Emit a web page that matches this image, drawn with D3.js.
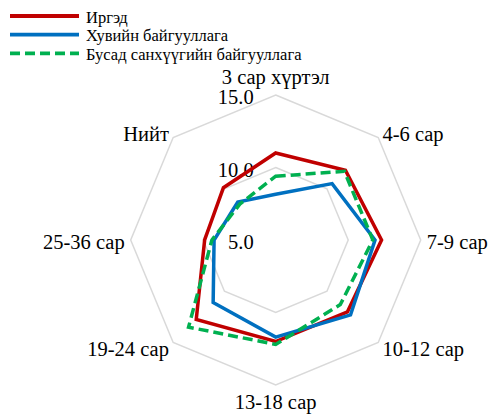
<!DOCTYPE html>
<html>
<head>
<meta charset="utf-8">
<script src="https://cdn.jsdelivr.net/npm/d3@7"></script>
<style>
  body { margin: 0; background: #fff; }
  text { font-family: "Liberation Serif", "Times New Roman", Times, serif; fill: #000; }
</style>
</head>
<body>
<div id="chart"></div>
<script>
// Categories (axes, clockwise from top)
const categories = ["3 сар хүртэл", "4-6 сар", "7-9 сар", "10-12 сар", "13-18 сар", "19-24 сар", "25-36 сар", "Нийт"];

// Series values
const citizens = [11.0, 11.8, 12.3, 12.0, 12.0, 12.75, 9.9, 10.1];
const privateOrgs = [8.15, 10.5, 11.85, 12.3, 11.7, 11.1, 9.25, 8.7];
const otherFinancial = [9.4, 11.7, 11.7, 11.3, 12.2, 13.5, 9.4, 8.5];

const tickValues = [5, 10, 15];

const series = [
    {name: "Иргэд", values: citizens, color: "#C00000", dash: null},
    {name: "Хувийн байгууллага", values: privateOrgs, color: "#0070C0", dash: null},
    {name: "Бусад санхүүгийн байгууллага", values: otherFinancial, color: "#00B050", dash: "10,5"}
];

const width = 491, height = 414;
const cx = 275.7, cy = 240, outerR = 145;

const svg = d3.select("#chart")
    .append("svg")
    .attr("width", width)
    .attr("height", height);

const r = d3.scaleLinear().domain([5, 15]).range([0, outerR]);
const angle = d3.scalePoint().domain(categories).range([0, 2 * Math.PI * (7 / 8)]);

const g = svg.append("g").attr("transform", `translate(${cx},${cy})`);

const radial = d3.lineRadial()
    .angle((d, i) => angle(categories[i]))
    .radius(d => r(d))
    .curve(d3.curveLinearClosed);

// Grid octagons
g.selectAll(".grid")
    .data(tickValues.filter(v => r(v) > 0))
    .enter().append("path")
    .attr("fill", "none")
    .attr("stroke", "#d9d9d9")
    .attr("stroke-width", 1.5)
    .attr("d", v => radial(categories.map(() => v)));

// Tick labels
g.selectAll(".tick")
    .data(tickValues)
    .enter().append("text")
    .attr("x", -22)
    .attr("y", v => -r(v) + 2)
    .attr("dy", "0.35em")
    .attr("text-anchor", "end")
    .style("font-size", "20.5px")
    .text(v => v.toFixed(1));

// Category labels
categories.forEach((c, i) => {
    const a = angle(c);
    const sx = Math.sin(a), sy = -Math.cos(a);
    const x = (outerR + 6) * sx;
    const y = (outerR + 6) * sy;
    let anchor = "middle", yy = y;
    if (sx > 0.1) anchor = "start";
    else if (sx < -0.1) anchor = "end";
    if (Math.abs(sx) < 0.1) yy = sy < 0 ? y - 12.5 : y + 11;
    if (Math.abs(sx) > 0.1 && Math.abs(sy) > 0.1) yy = y + (sy < 0 ? 1 : 2);
    if (Math.abs(sy) < 0.1) yy = y + 1.5;
    g.append("text")
        .attr("x", x)
        .attr("y", yy)
        .attr("dy", "0.35em")
        .attr("text-anchor", anchor)
        .style("font-size", "20.5px")
        .text(c);
});

// Series
series.forEach(s => {
    g.append("path")
        .attr("fill", "none")
        .attr("stroke", s.color)
        .attr("stroke-width", 3.5)
        .attr("stroke-linejoin", "miter")
        .attr("stroke-dasharray", s.dash)
        .attr("d", radial(s.values));
});

// Legend
const legend = svg.append("g");
series.forEach((s, i) => {
    const y = 16 + i * 18.7;
    legend.append("line")
        .attr("x1", 10).attr("x2", 79)
        .attr("y1", y).attr("y2", y)
        .attr("stroke", s.color)
        .attr("stroke-width", 3.8)
        .attr("stroke-dasharray", s.dash);
    legend.append("text")
        .attr("x", 86)
        .attr("y", y + 1)
        .attr("dy", "0.35em")
        .style("font-size", "16.5px")
        .text(s.name);
});
</script>
</body>
</html>
